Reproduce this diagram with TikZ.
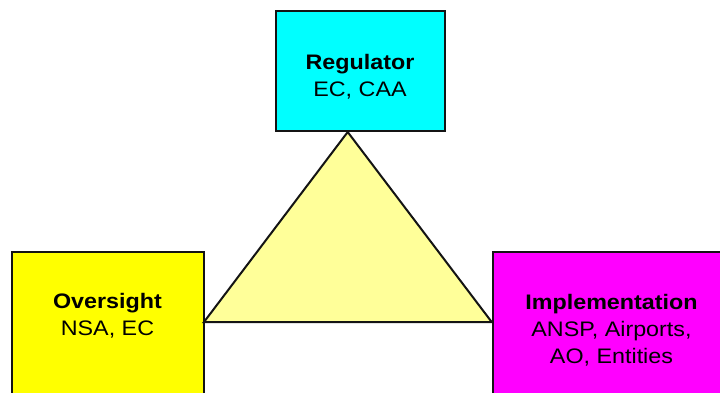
\documentclass[tikz,border=0pt]{standalone}
\usepackage{fontspec}
\setmainfont{Liberation Sans}[FakeStretch=1.11]
\definecolor{regcol}{RGB}{0,255,255}
\definecolor{ovcol}{RGB}{255,255,0}
\definecolor{impcol}{RGB}{255,0,255}
\definecolor{tricol}{RGB}{255,255,153}
\definecolor{edgecol}{RGB}{20,20,20}
\begin{document}
\begin{tikzpicture}[x=1pt,y=-1pt,
  boxstyle/.style={draw=edgecol,line width=2pt,inner sep=0pt,anchor=north west},
  labelstyle/.style={align=center,font=\fontsize{21}{27}\selectfont,inner sep=0pt,text=black}]
\clip (0,0) rectangle (720,392);
% boxes
\node[boxstyle,fill=regcol,minimum width=169pt,minimum height=120pt] (reg) at (275,10) {};
\node[boxstyle,fill=ovcol,minimum width=192pt,minimum height=170pt] (ov) at (11,251) {};
\node[boxstyle,fill=impcol,minimum width=240pt,minimum height=170pt] (imp) at (492,251) {};
% triangle
\coordinate (apex) at (347.7,132);
\coordinate (bl) at (204,322);
\coordinate (br) at (491.7,322);
\draw[draw=edgecol,fill=tricol,line width=2pt,line join=miter] (apex) -- (bl) -- (br) -- cycle;
% labels
\node[labelstyle] (regtxt) at (360,77) {\textbf{Regulator}\\EC, CAA};
\node[labelstyle] (ovtxt) at (107.5,316) {\textbf{Oversight}\\NSA, EC};
\node[labelstyle] (imptxt) at (611.5,330) {\textbf{Implementation}\\ANSP, Airports,\\AO, Entities};
\end{tikzpicture}
\end{document}
